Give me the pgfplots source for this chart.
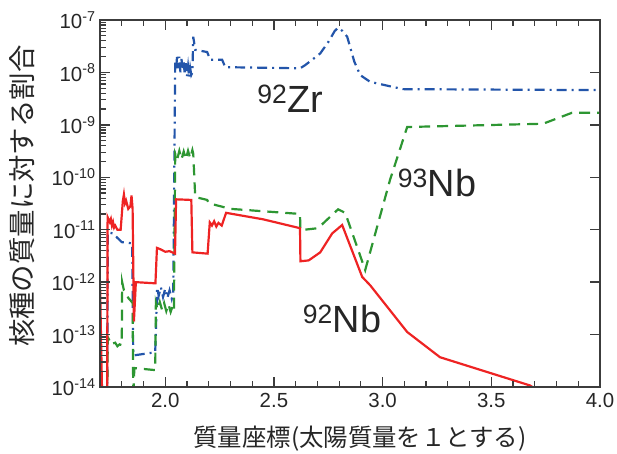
\documentclass[border=0pt]{standalone}
\usepackage{pgfplots}
\pgfplotsset{compat=1.18}
\usetikzlibrary{calc}
\usepackage{fontspec}
\setmainfont{Liberation Sans}
\newfontfamily\jp{Noto Sans CJK JP}
\definecolor{cblue}{RGB}{35,85,170}
\definecolor{cgreen}{RGB}{45,150,50}
\definecolor{cred}{RGB}{238,35,35}
\definecolor{axgray}{RGB}{60,60,60}
\begin{document}
\begin{tikzpicture}
\begin{axis}[name=main,
  scale only axis, width=500bp, height=367bp,
  xmin=1.7, xmax=4.0, ymode=log, ymin=1e-14, ymax=1e-7,
  xtick={2.0,2.5,3.0,3.5,4.0}, minor x tick num=4,
  xticklabel style={yshift=-3bp, /pgf/number format/fixed, /pgf/number format/fixed zerofill, /pgf/number format/precision=1, /pgf/number format/assume math mode=true},
  ytick={1e-14,1e-13,1e-12,1e-11,1e-10,1e-9,1e-8,1e-7},
  yticklabels={10\textsuperscript{-14},10\textsuperscript{-13},10\textsuperscript{-12},10\textsuperscript{-11},10\textsuperscript{-10},10\textsuperscript{-9},10\textsuperscript{-8},10\textsuperscript{-7}},
  ytick pos=left,
  tick align=inside,
  major tick length=10bp, minor tick length=6bp,
  major tick style={draw=axgray, line width=1.4pt},
  minor tick style={draw=axgray, line width=1.2pt},
  axis line style={axgray, line width=1.5pt},
  ticklabel style={font=\fontsize{20.5}{22}\selectfont, text=black!85},
  yticklabel style={xshift=-1bp},
  xlabel={\jp 質量座標(太陽質量を１とする)},
  xlabel style={font=\fontsize{24.5}{26}\selectfont, at={(axis description cs:0.52,-0.142)}, anchor=center, text=black!85},
  ylabel={\jp 核種の質量に対する割合},
  ylabel style={font=\fontsize{27.5}{29}\selectfont, at={(axis description cs:-0.155,0.52)}, anchor=center, text=black!85},
  axis on top,
]
\addplot[cblue, line width=2.2pt, dash pattern=on 10bp off 5bp on 2bp off 5bp] coordinates {
(1.733,6e-15)(1.736,8.9e-12)(1.76,8.5e-12)(1.78,7e-12)(1.80,5.8e-12)(1.848,5.5e-12)(1.853,4.0e-14)(1.954,4.6e-14)(1.963,7.9e-13)(1.97,5.5e-13)(1.98,8e-13)(1.99,5.2e-13)(2.0,7.5e-13)(2.01,5e-13)(2.02,7e-13)(2.03,4.8e-13)(2.037,6.2e-13)(2.046,1.58e-8)(2.05,1.1e-8)(2.055,2.2e-8)(2.06,1.2e-8)(2.065,2.0e-8)(2.07,1.0e-8)(2.075,1.8e-8)(2.08,1.1e-8)(2.085,1.6e-8)(2.09,9e-9)(2.095,1.5e-8)(2.10,8.5e-9)(2.105,1.3e-8)(2.11,8e-9)(2.115,1.2e-8)(2.12,9e-9)(2.125,1.0e-8)(2.129,4.8e-8)(2.138,2.7e-8)(2.193,2.45e-8)(2.207,1.74e-8)(2.262,1.74e-8)(2.276,1.26e-8)(2.621,1.2e-8)(2.644,1.38e-8)(2.68,1.8e-8)(2.713,2.3e-8)(2.75,3.8e-8)(2.78,6.2e-8)(2.795,7.1e-8)(2.815,6.2e-8)(2.837,4.8e-8)(2.87,1.6e-8)(2.897,8.9e-9)(2.943,6.6e-9)(3.094,4.8e-9)(4.0,4.6e-9)
};
\addplot[cgreen, line width=2.2pt, dash pattern=on 11bp off 7bp] coordinates {
(1.733,6e-15)(1.736,8.9e-14)(1.745,7.5e-14)(1.75,8e-14)(1.76,6.8e-14)(1.77,7e-14)(1.78,6e-14)(1.79,6.5e-14)(1.80,6.3e-14)(1.802,1.0e-12)(1.81,7e-13)(1.82,6e-13)(1.83,5.0e-13)(1.84,4.5e-13)(1.85,4.0e-13)(1.853,6e-15)(1.858,2.3e-14)(1.954,2.1e-14)(1.957,4.0e-13)(1.965,3.0e-13)(1.975,4.2e-13)(1.985,3.0e-13)(1.995,4.0e-13)(2.005,2.8e-13)(2.015,3.8e-13)(2.025,2.7e-13)(2.035,3.6e-13)(2.04,3.0e-13)(2.046,2.8e-10)(2.055,2.2e-10)(2.065,3.2e-10)(2.075,2.2e-10)(2.085,3.1e-10)(2.095,2.2e-10)(2.105,3.2e-10)(2.115,2.3e-10)(2.125,3.3e-10)(2.129,2.8e-10)(2.138,4.2e-11)(2.193,3.7e-11)(2.2,3.2e-11)(2.3,2.5e-11)(2.62,2.0e-11)(2.622,9.8e-12)(2.703,1.07e-11)(2.795,2.45e-11)(2.828,2.1e-11)(2.92,1.7e-12)(3.034,8.9e-11)(3.113,9.1e-10)(3.738,1.05e-9)(3.871,1.7e-9)(4.0,1.7e-9)
};
\addplot[cred, line width=2.2pt] coordinates {
(1.700,1e-12)(1.710,6e-15)(1.733,6e-15)(1.735,1.74e-11)(1.745,1.4e-11)(1.75,1.6e-11)(1.755,1.2e-11)(1.76,1.4e-11)(1.765,1.1e-11)(1.77,1.2e-11)(1.78,1.0e-11)(1.795,1.0e-11)(1.805,3.5e-11)(1.81,4.7e-11)(1.815,3.2e-11)(1.82,3.6e-11)(1.83,2.5e-11)(1.84,2.8e-11)(1.845,4.5e-11)(1.85,2.5e-11)(1.856,1.78e-13)(1.865,1.0e-12)(1.955,9.5e-13)(1.962,4.5e-12)(1.98,4.2e-12)(2.0,3.8e-12)(2.02,3.9e-12)(2.045,3.5e-12)(2.05,3.8e-11)(2.12,3.7e-11)(2.125,3.7e-12)(2.195,3.5e-12)(2.205,1.38e-11)(2.215,1.2e-11)(2.225,1.45e-11)(2.235,1.15e-11)(2.245,1.35e-11)(2.26,1.2e-11)(2.28,2.1e-11)(2.45,1.58e-11)(2.62,1.07e-11)(2.622,2.5e-12)(2.66,2.6e-12)(2.713,3.7e-12)(2.768,8.5e-12)(2.814,1.23e-11)(2.906,1.26e-12)(2.943,8.7e-13)(3.113,1.12e-13)(3.264,3.7e-14)(3.678,1.07e-14)(3.70,9.3e-15)
};
\node[font=\fontsize{38}{40}\selectfont, text=black!85] at (axis cs:2.575,3.1e-9) {\textsuperscript{92}Zr};
\node[font=\fontsize{38}{40}\selectfont, text=black!85] at (axis cs:3.25,7.8e-11) {\textsuperscript{93}Nb};
\node[font=\fontsize{38}{40}\selectfont, text=black!85] at (axis cs:2.814,2.0e-13) {\textsuperscript{92}Nb};
\end{axis}
\foreach \k in {0,1,...,7} {
  \draw[axgray, line width=1.4pt] ($(main.south east)!\k/7!(main.north east)$) -- ++(-10bp,0);
  \draw[axgray, line width=1.4pt] ($(main.south west)!\k/7!(main.north west)$) -- ++(10bp,0);
}
\foreach \k in {0,1,...,6} {
  \foreach \m in {0.30103,0.47712,0.60206,0.69897,0.77815,0.84510,0.90309,0.95424} {
    \draw[axgray, line width=1.1pt] ($(main.south west)!{(\k+\m)/7}!(main.north west)$) -- ++(6bp,0);
  }
}
\foreach \x in {2.0,2.5,3.0,3.5} {
  \draw[axgray, line width=1.4pt] ($(main.south west)!{(\x-1.7)/2.3}!(main.south east)$) -- ++(0,10bp);
  \draw[axgray, line width=1.4pt] ($(main.north west)!{(\x-1.7)/2.3}!(main.north east)$) -- ++(0,-10bp);
}
\foreach \x in {1.8,1.9,2.1,2.2,2.3,2.4,2.6,2.7,2.8,2.9,3.1,3.2,3.3,3.4,3.6,3.7,3.8,3.9} {
  \draw[axgray, line width=1.1pt] ($(main.south west)!{(\x-1.7)/2.3}!(main.south east)$) -- ++(0,6bp);
  \draw[axgray, line width=1.1pt] ($(main.north west)!{(\x-1.7)/2.3}!(main.north east)$) -- ++(0,-6bp);
}
\pgfresetboundingbox
\path ([xshift=-100bp,yshift=-67bp]main.south west) rectangle ([xshift=17bp,yshift=20bp]main.north east);
\end{tikzpicture}
\end{document}
